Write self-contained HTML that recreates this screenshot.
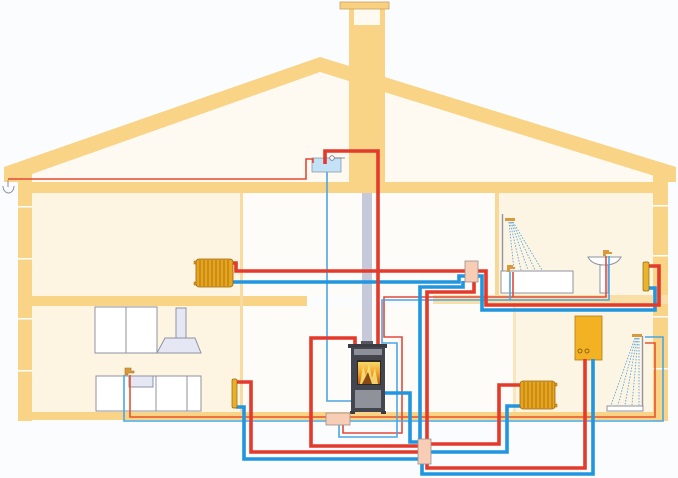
<!DOCTYPE html>
<html>
<head>
<meta charset="utf-8">
<style>
  html, body { margin: 0; padding: 0; background: #fbfcfd; }
  svg { display: block; }
</style>
</head>
<body>
<svg width="678" height="478" viewBox="0 0 678 478" xmlns="http://www.w3.org/2000/svg">
  <defs>
    <linearGradient id="fire" x1="0" y1="1" x2="0" y2="0">
      <stop offset="0" stop-color="#b85a10"/>
      <stop offset="0.5" stop-color="#f0a22a"/>
      <stop offset="1" stop-color="#f7d86a"/>
    </linearGradient>
  </defs>
  <rect x="0" y="0" width="678" height="478" fill="#fbfcfd"/>

  <!-- room fills -->
  <polygon points="32,174 320,72 653,175 653,182 32,182" fill="#fefaf1"/>
  <rect x="32" y="193" width="208" height="103" fill="#fdf4e2"/>
  <rect x="32" y="306" width="208" height="106" fill="#fdf4e2"/>
  <rect x="243" y="193" width="252" height="103" fill="#fefcf8"/>
  <rect x="243" y="306" width="270" height="106" fill="#fefcf8"/>
  <rect x="499" y="193" width="154" height="102" fill="#fdf5e4"/>
  <rect x="516" y="304" width="137" height="108" fill="#fdf5e4"/>

  <!-- roof -->
  <polygon points="4,167 320,57 676,167 676,182 653,182 653,175.5 320,72 32,174 32,182 4,182" fill="#f9d386"/>
  <!-- chimney -->
  <rect x="349" y="9" width="36" height="173" fill="#f9d386"/>
  <rect x="354" y="9" width="26" height="16" fill="#fefaf0"/>
  <rect x="340" y="2" width="49" height="7" fill="#f8d07f" stroke="#c9a062" stroke-width="0.8"/>

  <!-- ceiling and walls -->
  <rect x="18" y="182" width="650" height="11" fill="#f9d386"/>
  <rect x="18" y="175" width="14" height="246" fill="#f9d386"/>
  <rect x="653" y="175" width="15" height="246" fill="#f9d386"/>
  <rect x="18" y="296" width="289" height="10" fill="#f9d386"/>
  <rect x="433" y="295" width="235" height="9" fill="#f9dfa5"/>
  <rect x="18" y="412" width="650" height="8" fill="#f9d386"/>
  <rect x="240" y="193" width="3" height="219" fill="#f8dba0"/>
  <rect x="495" y="193" width="4" height="102" fill="#f8d896"/>
  <rect x="513" y="304" width="3" height="108" fill="#f9e6bf"/>
  <!-- wall breaks -->
  <g fill="#ffffff">
    <rect x="18" y="206" width="14" height="1.5"/>
    <rect x="18" y="258" width="14" height="1.5"/>
    <rect x="18" y="318" width="14" height="1.5"/>
    <rect x="18" y="370" width="14" height="1.5"/>
    <rect x="653" y="205" width="15" height="1.5"/>
    <rect x="653" y="255" width="15" height="1.5"/>
    <rect x="653" y="316" width="15" height="1.5"/>
    <rect x="653" y="368" width="15" height="1.5"/>
  </g>

  <!-- flue -->
  <rect x="362" y="193" width="10" height="152" fill="#c6c9da"/>

  <!-- gutter hook -->
  <path d="M8,180 V187 M3,186 A5.5,7 0 0 0 14,186" fill="none" stroke="#8a909c" stroke-width="1"/>

  <!-- kitchen -->
  <g stroke="#8f93a2" stroke-width="1" fill="#ffffff">
    <rect x="95" y="307" width="62" height="46"/>
    <line x1="126" y1="307" x2="126" y2="353"/>
    <rect x="176" y="308" width="10" height="30" fill="#e5e7f4"/>
    <polygon points="165,338 195,338 201,353 157,353" fill="#e5e7f4"/>
    <rect x="96" y="376" width="105" height="35"/>
    <line x1="156" y1="376" x2="156" y2="411"/>
    <line x1="187" y1="376" x2="187" y2="411"/>
    <rect x="129" y="376" width="24" height="11" fill="#e5e7f4"/>
  </g>
  <path d="M125,375 V368 H131 V371 H134 V373 H128 V375 Z" fill="#d99a3e" stroke="#a8701f" stroke-width="0.6"/>

  <!-- bathroom -->
  <line x1="502.5" y1="214" x2="502.5" y2="271" stroke="#8f93a2" stroke-width="1.4"/>
  <rect x="505" y="218" width="10" height="3" fill="#d99a3e"/>
  <g stroke="#5aa6de" stroke-width="0.9" stroke-dasharray="1.5,1.5" fill="none">
    <line x1="509" y1="222" x2="514" y2="270"/>
    <line x1="510" y1="222" x2="521" y2="270"/>
    <line x1="511" y1="222" x2="528" y2="270"/>
    <line x1="512" y1="222" x2="535" y2="270"/>
    <line x1="513" y1="222" x2="542" y2="270"/>
  </g>
  <rect x="501" y="271" width="72" height="22" fill="#ffffff" stroke="#8f93a2" stroke-width="1"/>
  <path d="M507,272 V265 H513 V267 H515 V269 H510 V272 Z" fill="#d99a3e"/>
  <path d="M588,257 H621 Q617,265 604.5,265 Q592,265 588,257 Z" fill="#ffffff" stroke="#8f93a2" stroke-width="1"/>
  <rect x="600" y="265" width="8" height="28" fill="#ffffff" stroke="#8f93a2" stroke-width="1"/>
  <path d="M603,256 V250 H609 V252 H612 V254 H606 V256 Z" fill="#d99a3e"/>

  <!-- lower shower -->
  <line x1="642.5" y1="336" x2="642.5" y2="407" stroke="#8f93a2" stroke-width="1.4"/>
  <rect x="632" y="334" width="10" height="3" fill="#d99a3e"/>
  <g stroke="#5aa6de" stroke-width="0.9" stroke-dasharray="1.5,1.5" fill="none">
    <line x1="635" y1="338" x2="611" y2="405"/>
    <line x1="636" y1="338" x2="618" y2="405"/>
    <line x1="637" y1="338" x2="625" y2="405"/>
    <line x1="638" y1="338" x2="632" y2="405"/>
    <line x1="639" y1="338" x2="639" y2="405"/>
  </g>
  <rect x="607" y="406" width="36" height="5" fill="#ffffff" stroke="#8f93a2" stroke-width="1"/>

  <!-- boiler -->
  <rect x="575" y="316" width="27" height="44" fill="#f3b223" stroke="#b07a16" stroke-width="0.8"/>
  <circle cx="580" cy="351" r="2" fill="none" stroke="#7a5210" stroke-width="0.8"/>
  <circle cx="587" cy="351" r="2" fill="none" stroke="#7a5210" stroke-width="0.8"/>

  <!-- water tank -->
  <rect x="312" y="158" width="29" height="14" fill="#c4e2f6" stroke="#8a9aa8" stroke-width="0.8"/>
  <circle cx="332" cy="158" r="2.3" fill="#ffffff" stroke="#6d7580" stroke-width="0.8"/>
  <line x1="334.3" y1="158" x2="345" y2="158" stroke="#6d7580" stroke-width="0.8"/>

  <!-- thin pipes -->
  <g fill="none" stroke-width="1.6" stroke-linejoin="miter">
    <path d="M8,179 H306 V159 H313 V163" stroke="#e24a34"/>
    <path d="M130,375 V417 H655 V343 H645" stroke="#e8532e"/>
    <path d="M606,256 V297 H384 V337 H402 V433 H343 V425 M513,272 V297" stroke="#e24a3a"/>
    <path d="M124,375 V421 H663 V337 H645" stroke="#4aa6e4"/>
    <path d="M609,256 V300 H382 V343 H397 V437 H339 V425 M510,272 V300" stroke="#4aa6e4"/>
    <path d="M327,172 V401 H351" stroke="#4aa6e4"/>
  </g>

  <!-- thick pipes -->
  <g fill="none" stroke-width="3.6" stroke-linejoin="miter">
    <path d="M233,282 H459 V276 H466" stroke="#2196e0"/>
    <path d="M477,276 H482 V310 H655 V288 H648" stroke="#2196e0"/>
    <path d="M463,281 V287 H420 V440" stroke="#2196e0"/>
    <path d="M385,393 H410 V442 H419" stroke="#2196e0"/>
    <path d="M236,407 H244 V459 H419" stroke="#2196e0"/>
    <path d="M430,452 H507 V406 H521" stroke="#2196e0"/>
    <path d="M422,463 V474 H593 V359" stroke="#2196e0"/>

    <path d="M325,164 V151 H378 V347" stroke="#e33a2c"/>
    <path d="M233,263 H236 V271 H466" stroke="#e33a2c"/>
    <path d="M477,271 H486 V305 H659 V266 H648" stroke="#e33a2c"/>
    <path d="M474,281 V292 H427 V440" stroke="#e33a2c"/>
    <path d="M355,347 V338 H311 V446 H419" stroke="#e33a2c"/>
    <path d="M236,382 H251 V452 H419" stroke="#e33a2c"/>
    <path d="M430,444 H499 V385 H521" stroke="#e33a2c"/>
    <path d="M427,463 V468 H585 V359" stroke="#e33a2c"/>
  </g>

  <!-- radiators -->
  <g>
    <rect x="194" y="261" width="3" height="3" fill="#e6a51c" stroke="#9a6410" stroke-width="0.5"/>
    <rect x="194" y="282" width="3" height="3" fill="#e6a51c" stroke="#9a6410" stroke-width="0.5"/>
    <rect x="196" y="259" width="37" height="28" rx="3" fill="#e6a51c" stroke="#9a6410" stroke-width="0.8"/>
    <g stroke="#a06a12" stroke-width="0.8">
      <line x1="200" y1="260" x2="200" y2="286"/><line x1="204" y1="260" x2="204" y2="286"/>
      <line x1="208" y1="260" x2="208" y2="286"/><line x1="212" y1="260" x2="212" y2="286"/>
      <line x1="216" y1="260" x2="216" y2="286"/><line x1="220" y1="260" x2="220" y2="286"/>
      <line x1="224" y1="260" x2="224" y2="286"/><line x1="228" y1="260" x2="228" y2="286"/>
    </g>
    <rect x="554" y="383" width="3" height="3" fill="#e6a51c" stroke="#9a6410" stroke-width="0.5"/>
    <rect x="554" y="404" width="3" height="3" fill="#e6a51c" stroke="#9a6410" stroke-width="0.5"/>
    <rect x="520" y="381" width="35" height="28" rx="3" fill="#e6a51c" stroke="#9a6410" stroke-width="0.8"/>
    <g stroke="#a06a12" stroke-width="0.8">
      <line x1="524" y1="382" x2="524" y2="408"/><line x1="528" y1="382" x2="528" y2="408"/>
      <line x1="532" y1="382" x2="532" y2="408"/><line x1="536" y1="382" x2="536" y2="408"/>
      <line x1="540" y1="382" x2="540" y2="408"/><line x1="544" y1="382" x2="544" y2="408"/>
      <line x1="548" y1="382" x2="548" y2="408"/><line x1="552" y1="382" x2="552" y2="408"/>
    </g>
    <rect x="232" y="379" width="5" height="29" rx="1.5" fill="#e6b02a" stroke="#9a6410" stroke-width="0.7"/>
    <rect x="643" y="262" width="6" height="29" rx="1.5" fill="#e8b52a" stroke="#9a6410" stroke-width="0.7"/>
  </g>

  <!-- stove -->
  <rect x="361" y="341" width="12" height="4" fill="#55575f"/>
  <rect x="348" y="344" width="39" height="4" fill="#3a3c44"/>
  <rect x="351" y="347" width="34" height="65" fill="#44464f"/>
  <rect x="354" y="349" width="28" height="6" fill="#8d9099"/>
  <rect x="357" y="360" width="24" height="25" fill="#2e2a26"/>
  <rect x="358" y="362" width="22" height="22" fill="url(#fire)"/>
  <path d="M360,384 L363,366 L366,376 L369,364 L372,378 L375,368 L378,384 Z" fill="#fbe27c" opacity="0.85"/>
  <path d="M362,384 L368,372 L372,384 Z" fill="#8a4a12"/>
  <rect x="355" y="390" width="26" height="18" fill="#8f929a"/>
  <rect x="350" y="411" width="5" height="3" fill="#3a3c44"/>
  <rect x="381" y="411" width="5" height="3" fill="#3a3c44"/>

  <!-- manifold boxes -->
  <g fill="#f8cdb5" stroke="#9a8f8a" stroke-width="0.8">
    <rect x="465" y="261" width="13" height="21"/>
    <rect x="418" y="439" width="13" height="25"/>
    <rect x="326" y="413" width="24" height="12"/>
  </g>
</svg>
</body>
</html>
